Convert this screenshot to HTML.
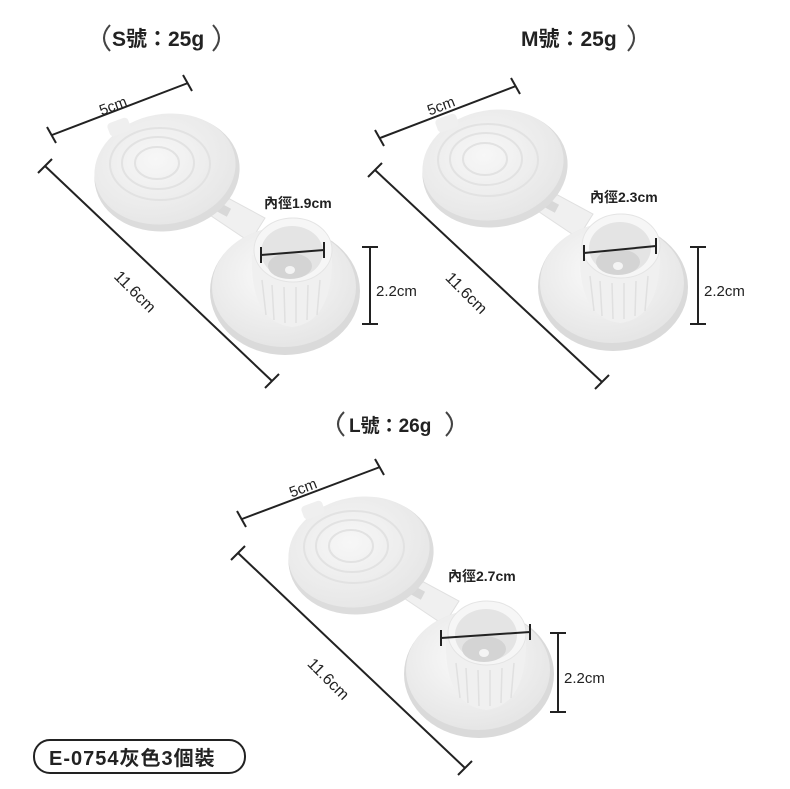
<!DOCTYPE html>
<html><head><meta charset="utf-8"><style>
html,body{margin:0;padding:0;background:#fff;}
svg{display:block;}
text{font-family:"Liberation Sans","Noto Sans CJK TC",sans-serif;fill:#222;}
</style></head><body>
<svg width="790" height="789" viewBox="0 0 790 789">
<defs>
<radialGradient id="lid" cx="0.45" cy="0.4" r="0.7">
<stop offset="0" stop-color="#f7f7f7"/><stop offset="1" stop-color="#e4e4e4"/></radialGradient>
<radialGradient id="base" cx="0.45" cy="0.4" r="0.7">
<stop offset="0" stop-color="#fbfbfb"/><stop offset="1" stop-color="#e2e2e2"/></radialGradient>
<g id="prod">
  <!-- strap -->
  <polygon points="180,195 200,183 265,218 250,242" fill="#f0f0f0" stroke="#e0e0e0"/>
  <rect x="216" y="205" width="14" height="9" fill="#d8d8d8" transform="rotate(28 223 209)"/>
  <!-- lid -->
  <ellipse cx="167" cy="173" rx="73" ry="58" fill="#dcdcdc" transform="rotate(-10 167 173)"/>
  <ellipse cx="165" cy="169" rx="71" ry="55" fill="url(#lid)" transform="rotate(-10 165 169)"/>
  <rect x="108" y="120" width="22" height="14" rx="4" fill="#efefef" transform="rotate(-20 119 127)"/>
  <g fill="none" stroke="#e2e2e2" stroke-width="2">
    <ellipse cx="160" cy="164" rx="50" ry="36"/>
    <ellipse cx="158" cy="163" rx="36" ry="26"/>
    <ellipse cx="157" cy="163" rx="22" ry="16"/>
  </g>
  <!-- base -->
  <ellipse cx="285" cy="291" rx="75" ry="64" fill="#dadada"/>
  <ellipse cx="284" cy="287" rx="72" ry="60" fill="url(#base)"/>
  <path d="M252,255 Q250,322 292,327 Q334,322 332,252 Z" fill="#f0f0f0"/>
  <g stroke="#e0e0e0" stroke-width="1.5">
    <line x1="262" y1="280" x2="266" y2="315"/><line x1="272" y1="285" x2="274" y2="320"/>
    <line x1="284" y1="287" x2="285" y2="323"/><line x1="296" y1="287" x2="296" y2="323"/>
    <line x1="308" y1="285" x2="307" y2="320"/><line x1="320" y1="280" x2="317" y2="315"/>
  </g>
  <ellipse cx="293" cy="250" rx="39" ry="32" fill="#f6f6f6" stroke="#e4e4e4"/>
  <ellipse cx="292" cy="252" rx="31" ry="26" fill="#e4e4e4"/>
  <ellipse cx="290" cy="266" rx="22" ry="13" fill="#d4d4d4"/>
  <ellipse cx="290" cy="270" rx="5" ry="4" fill="#f4f4f4"/>
</g>
</defs>

<use href="#prod"/>
<use href="#prod" transform="translate(328,-4)"/>
<use href="#prod" transform="translate(194,383)"/>

<g stroke="#222" stroke-width="2" fill="none">
  <!-- S -->
  <line x1="52" y1="135" x2="188" y2="83"/><line x1="47" y1="127" x2="56" y2="143"/><line x1="183" y1="75" x2="192" y2="91"/>
  <line x1="45" y1="166" x2="272" y2="381"/><line x1="38" y1="173" x2="52" y2="159"/><line x1="265" y1="388" x2="279" y2="374"/>
  <line x1="370" y1="247" x2="370" y2="324"/><line x1="362" y1="247" x2="378" y2="247"/><line x1="362" y1="324" x2="378" y2="324"/>
  <line x1="261" y1="255" x2="324" y2="250"/><line x1="261" y1="247" x2="261" y2="263"/><line x1="324" y1="242" x2="324" y2="258"/>
  <!-- M -->
  <line x1="380" y1="138" x2="516" y2="86"/><line x1="375" y1="130" x2="384" y2="146"/><line x1="511" y1="78" x2="520" y2="94"/>
  <line x1="375" y1="170" x2="602" y2="382"/><line x1="368" y1="177" x2="382" y2="163"/><line x1="595" y1="389" x2="609" y2="375"/>
  <line x1="698" y1="247" x2="698" y2="324"/><line x1="690" y1="247" x2="706" y2="247"/><line x1="690" y1="324" x2="706" y2="324"/>
  <line x1="584" y1="253" x2="656" y2="246"/><line x1="584" y1="245" x2="584" y2="261"/><line x1="656" y1="238" x2="656" y2="254"/>
  <!-- L -->
  <line x1="242" y1="519" x2="380" y2="467"/><line x1="237" y1="511" x2="246" y2="527"/><line x1="375" y1="459" x2="384" y2="475"/>
  <line x1="238" y1="553" x2="465" y2="768"/><line x1="231" y1="560" x2="245" y2="546"/><line x1="458" y1="775" x2="472" y2="761"/>
  <line x1="558" y1="633" x2="558" y2="712"/><line x1="550" y1="633" x2="566" y2="633"/><line x1="550" y1="712" x2="566" y2="712"/>
  <line x1="441" y1="638" x2="530" y2="632"/><line x1="441" y1="630" x2="441" y2="646"/><line x1="530" y1="624" x2="530" y2="640"/>
  <!-- title brackets -->
  <path d="M110,25 Q98,38 110,51" stroke="#444" stroke-width="2"/>
  <path d="M213,25 Q225,38 213,51" stroke="#444" stroke-width="2"/>
  <path d="M628,25 Q640,38 628,51" stroke="#444" stroke-width="2"/>
  <path d="M344,412 Q332,424 344,436" stroke="#444" stroke-width="2"/>
  <path d="M446,412 Q458,424 446,436" stroke="#444" stroke-width="2"/>
  <rect x="34" y="740" width="211" height="33" rx="16" stroke="#222"/>
</g>

<g font-size="15">
  <text x="112" y="300" transform="rotate(45 140 290)" font-size="16">11.6cm</text>
  <text x="444" y="300" transform="rotate(45 470 290)" font-size="16">11.6cm</text>
  <text x="306" y="686" transform="rotate(45 332 676)" font-size="16">11.6cm</text>
  <text x="98" y="110" transform="rotate(-21 115 103)">5cm</text>
  <text x="426" y="110" transform="rotate(-21 443 103)">5cm</text>
  <text x="288" y="492" transform="rotate(-21 305 485)">5cm</text>
  <text x="376" y="296">2.2cm</text>
  <text x="704" y="296">2.2cm</text>
  <text x="564" y="683">2.2cm</text>
</g>
<g font-size="14" font-weight="bold">
  <text x="264" y="208">內徑1.9cm</text>
  <text x="590" y="202">內徑2.3cm</text>
  <text x="448" y="581">內徑2.7cm</text>
</g>
<g font-size="21" font-weight="bold">
  <text x="112" y="46">S號：25g</text>
  <text x="521" y="46">M號：25g</text>
  <text x="349" y="432" font-size="19">L號：26g</text>
  <text x="49" y="765" font-size="20" letter-spacing="1">E-0754灰色3個裝</text>
</g>
</svg>
</body></html>
